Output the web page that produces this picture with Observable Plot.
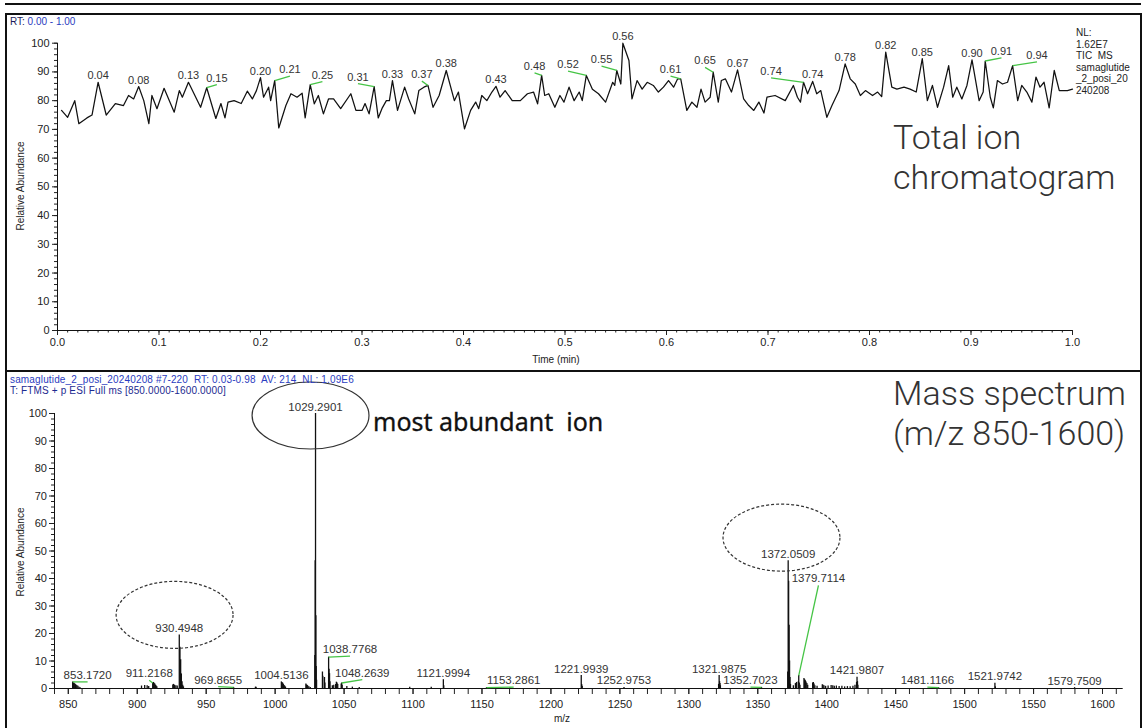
<!DOCTYPE html>
<html><head><meta charset="utf-8">
<script src="https://cdn.jsdelivr.net/npm/d3@7"></script>
<script src="https://cdn.jsdelivr.net/npm/@observablehq/plot@0.6"></script>
<style>
body{margin:0;background:#fff;}
#wrap{position:relative;width:1145px;height:728px;overflow:hidden;background:#fff;font-family:"Liberation Sans",Arial,sans-serif;color:#222;}
.abs{position:absolute;white-space:pre;}
.ln{position:absolute;background:#111;}
.ctr{transform:translate(-50%,-50%);}
.rot{transform:translate(-50%,-50%) rotate(-90deg);}
.big{font-family:Roboto,"Noto Sans",sans-serif;font-weight:300;font-size:34px;line-height:40px;color:#333;}
.hdr{font-size:10px;line-height:11px;color:#2a3cc0;}
</style></head>
<body><div id="wrap">
<div id="topPlot" style="position:absolute;left:0;top:0"></div>
<div id="msPlot" style="position:absolute;left:0;top:371px"></div>
<div class="ln" style="left:5px;top:3px;width:1136px;height:1.5px"></div>
<div class="ln" style="left:5px;top:13px;width:1136px;height:1.5px"></div>
<div class="ln" style="left:5px;top:13px;width:1.5px;height:715px"></div>
<div class="ln" style="left:1140px;top:13px;width:1.5px;height:715px"></div>
<div class="ln" style="left:5px;top:370px;width:1136px;height:2px"></div>
<div class="abs hdr" style="left:10px;top:16px"><span style="color:#1c1c5a">RT:</span> 0.00 - 1.00</div>
<div class="abs" style="left:1076px;top:27px;font-size:10px;line-height:11.5px;color:#222">NL:
1.62E7
TIC  MS
samaglutide
_2_posi_20
240208</div>
<div class="abs big" style="left:893px;top:117px">Total ion
chromatogram</div>
<div class="abs big" style="left:893px;top:373px">Mass spectrum
(m/z 850-1600)</div>
<div class="abs" style="left:373px;top:404px;font-family:'Noto Sans',sans-serif;font-size:25px;line-height:34px;color:#111;-webkit-text-stroke:0.3px #111">most abundant  ion</div>
<div class="abs hdr" style="left:10px;top:374px;letter-spacing:0.15px">samaglutide_2_posi_20240208 #7-220  RT: 0.03-0.98  AV: 214  NL: 1.09E6
<span style="color:#1c2a90">T: FTMS + p ESI Full ms [850.0000-1600.0000]</span></div>
<div class="abs rot" style="left:20px;top:186px;font-size:10px">Relative Abundance</div>
<div class="abs rot" style="left:20px;top:552px;font-size:10px">Relative Abundance</div>
<div class="abs ctr" style="left:556px;top:359px;font-size:10px">Time (min)</div>
<div class="abs ctr" style="left:562px;top:718px;font-size:10px">m/z</div>
</div>
<script>
// ---------- Total ion chromatogram ----------
const ticTime = [
0.004,0.010,0.017,0.021,0.029,0.034,0.040,0.048,0.057,0.065,
0.070,0.075,0.080,0.085,0.090,0.093,0.098,0.105,0.115,0.120,
0.123,0.129,0.141,0.147,0.156,0.161,0.165,0.168,0.174,0.181,
0.187,0.192,0.196,0.200,0.203,0.208,0.210,0.214,0.218,0.225,
0.230,0.236,0.241,0.244,0.249,0.253,0.257,0.262,0.267,0.272,
0.279,0.289,0.294,0.300,0.303,0.307,0.312,0.316,0.320,0.324,
0.327,0.330,0.335,0.342,0.346,0.352,0.356,0.361,0.365,0.370,
0.376,0.383,0.391,0.395,0.401,0.407,0.412,0.415,0.418,0.423,
0.428,0.432,0.436,0.441,0.448,0.456,0.463,0.469,0.473,0.477,
0.480,0.484,0.490,0.495,0.499,0.504,0.509,0.514,0.517,0.521,
0.527,0.533,0.540,0.547,0.549,0.551,0.555,0.557,0.563,0.566,
0.571,0.576,0.581,0.587,0.592,0.597,0.602,0.607,0.611,0.614,
0.620,0.625,0.630,0.634,0.638,0.643,0.646,0.651,0.654,0.658,
0.664,0.670,0.676,0.681,0.686,0.691,0.696,0.699,0.707,0.717,
0.725,0.729,0.732,0.735,0.739,0.744,0.748,0.752,0.758,0.763,
0.770,0.776,0.781,0.786,0.791,0.796,0.803,0.808,0.812,0.816,
0.822,0.827,0.834,0.840,0.846,0.852,0.857,0.862,0.867,0.873,
0.878,0.882,0.886,0.891,0.896,0.901,0.908,0.912,0.914,0.919,
0.922,0.926,0.931,0.936,0.941,0.946,0.950,0.955,0.960,0.964,
0.968,0.972,0.977,0.982,0.987,0.995,1.000];
const ticValue = [
76.6,74.2,80,72,74,75,86.4,75,79,78.3,
81.8,80.6,84.9,80,72,81.8,77.2,84.3,76,83.5,
81.2,86.4,77.7,84.5,73.8,79,74,79.5,80,79,
83.3,80.6,83.5,88,81.2,84.7,80,87,70.5,78.3,
82.4,81.2,82.6,74,85.6,78.9,81.8,75.4,80.6,80.6,
77.2,82.4,76.6,76.6,79,75.4,84.9,74,77.5,80,
80,87,76.6,84.7,80.6,75.4,83.5,84.7,85.3,77.7,
81.8,90.5,80,83,70.2,76.6,79.5,77.2,81.8,80,
83,85,81.2,83.5,80,80,82.4,83,78.9,88.8,
81.8,82.4,77.7,81.8,79.5,84.7,80,83,80,88.8,
84,82.4,79.5,86.4,85.3,90.5,85.8,100,94,80.6,
87,84,86.4,85.3,83,84.7,87,84.7,87.6,87.6,
76.6,79.5,77.7,84,79.5,81.2,89.9,79.5,87,87.6,
83,90.7,80.6,78.3,76.6,79.5,75.7,81.2,81.8,80,
85.3,81.2,79.5,86.4,82.4,86.7,82.4,83.5,74.2,78.3,
83.5,92.8,87.6,85.8,81.8,83.5,81.8,83,81.4,96.9,
84.7,84,84.7,84,83,94.6,80,85.3,77.7,84.7,
92.2,81.2,84.7,80.6,85.3,94.2,80,83,93.8,81.2,
77.5,87,85.8,86.4,92.2,80,85.3,83,79.5,88.2,
84.7,86.4,77.5,90.5,83.5,83.5,84];

const ticLabelText = ["0.04","0.08","0.13","0.15","0.20","0.21","0.25","0.31","0.33","0.37","0.38","0.43","0.48","0.52","0.55","0.56","0.61","0.65","0.67","0.74","0.74","0.78","0.82","0.85","0.90","0.91","0.94"];
const ticLabelPeak = [0.040,0.080,0.129,0.147,0.200,0.214,0.249,0.312,0.330,0.365,0.383,0.432,0.477,0.521,0.551,0.557,0.614,0.646,0.670,0.735,0.744,0.776,0.816,0.852,0.901,0.914,0.941];
// displaced label anchors (null = label sits right above its peak)
const ticLabelTime  = [null,null,null,0.157,null,0.229,0.261,0.296,null,0.359,null,null,0.470,0.503,0.536,null,0.604,0.638,null,0.703,null,null,null,null,null,0.930,0.965];
const ticLabelLevel = [null,null,null,85.6,null,88.5,86.6,85.9,null,86.8,null,null,89.7,90.3,92.0,null,88.5,91.6,null,87.9,null,null,null,null,null,94.9,93.5];

const yTicks = d3.range(0, 101, 10);
const yMinor = d3.range(0, 101, 2);
const timeTicks = d3.range(0, 11).map(d => d / 10);
const timeMinor = d3.range(0, 101).map(d => d / 100);

// ---------- Mass spectrum ----------
const msMz = [853.17,853.67,854.2,854.7,855.2,855.7,856.3,857.0,857.8,858.6,
903.1,905.4,907.2,908.3,
911.22,911.72,912.22,912.72,913.22,913.7,914.2,
925.8,926.3,927.0,928.0,929.0,
930.49,930.99,931.49,931.99,932.49,932.99,933.5,
969.87,985.7,986.2,
1004.51,1005.0,1005.5,1006.0,1006.5,1007.0,1007.5,
1022.3,1022.8,1023.3,1023.8,1024.5,1025.5,
1028.79,1029.04,1029.29,1029.54,1029.79,1030.04,
1034.3,1034.55,1035.8,1036.1,
1038.78,1039.11,1039.45,1039.78,
1041.5,1042.5,
1043.9,1044.4,1044.9,1045.4,
1047.9,1048.26,1048.6,
1052.0,1056.0,1061.0,
1097.6,1113.2,1121.99,1122.3,
1153.29,1221.99,1222.3,1222.7,1252.98,
1321.6,1321.99,1322.3,1322.6,1322.9,
1352.70,
1371.72,1372.05,1372.38,1372.72,1373.05,1373.38,1373.72,
1375.8,1377.3,1378.1,1379.4,1379.71,1380.1,1380.6,
1383.5,1384.0,1384.5,1385.0,1385.6,1386.2,
1389.8,1390.3,1390.8,1391.4,1393.0,
1396.8,1397.3,1398.0,1399.2,1401.0,1403.2,1404.4,1405.5,1407.0,1409.0,1411.0,1413.0,1415.0,1417.0,1419.0,1420.5,
1421.65,1421.98,1422.3,1422.6,
1481.12,1521.97,1522.3,1579.75];
const msIntensity = [2.4,2.0,1.9,1.6,1.4,1.2,1.0,0.8,0.5,0.3,
0.9,1.1,1.0,0.7,
2.0,2.2,1.9,1.6,1.2,0.9,0.6,
1.3,1.5,1.2,1.0,0.9,
19.5,15.0,10.5,5.3,2.5,1.2,0.6,
0.4,0.5,0.5,
2.4,2.2,1.9,1.5,1.1,0.8,0.5,
1.6,1.3,1.1,0.8,0.6,0.4,
12,46.5,100,26.5,8,3,
6.0,4.5,4.0,2.0,
11.4,7.0,5.4,2.5,
1.0,1.2,
1.5,2.3,2.0,1.5,
1.6,2.0,1.2,
0.7,0.5,0.4,
0.5,0.5,3.2,1.0,
0.3,4.7,1.5,0.8,0.4,
1.5,4.7,2.5,1.8,1.0,
0.4,
6.0,46.5,39.0,23.0,10.0,4.0,1.5,
1.0,1.8,2.2,2.5,4.7,2.0,1.2,
3.6,3.2,2.8,2.4,1.8,1.2,
2.0,2.2,1.6,1.0,0.8,
1.4,1.2,1.0,0.8,0.9,1.1,1.0,0.8,0.9,0.7,0.8,0.6,0.7,0.6,0.8,1.2,
2.2,4.1,2.5,1.2,
0.3,1.9,0.6,0.3];

const msLabelText = ["853.1720","911.2168","930.4948","969.8655","1004.5136","1029.2901","1038.7768","1048.2639","1121.9994","1153.2861","1221.9939","1252.9753","1321.9875","1352.7023","1372.0509","1379.7114","1421.9807","1481.1166","1521.9742","1579.7509"];
const msLabelMz    = [864,908.7,null,958.7,null,null,1054.3,1063.2,null,1173,null,null,null,1344.7,null,1394,null,1473,null,null];
const msLabelLevel = [2.4,3.0,null,0.7,null,null,11.8,3.2,null,0.5,null,null,null,0.5,null,37.5,null,0.5,null,null];

const mzTicks = d3.range(850, 1601, 50);
const mzMinor = d3.range(840, 1611, 10);

// circled ions
const circledIons = ["930.4948","1029.2901","1372.0509"];
const circleDashed = [true,false,true];
const circleShift = [[-4.7,-20],[-5,2],[-6.7,-23]];

// ---------- build ----------
const tic = ticTime.map((t, i) => ({t, v: ticValue[i]}));
const nearest = (arr, key, x) => arr.reduce((a, b) => Math.abs(b[key] - x) < Math.abs(a[key] - x) ? b : a);
const ticLabels = ticLabelText.map((s, i) => {
  const p = nearest(tic, "t", ticLabelPeak[i]);
  const moved = ticLabelTime[i] != null;
  return {s, pt: p.t, pv: p.v, lt: moved ? ticLabelTime[i] : p.t, lv: moved ? ticLabelLevel[i] : p.v, moved};
});
const ms = msMz.map((mz, i) => ({mz, i: msIntensity[i]}));
const msLabels = msLabelText.map((s, k) => {
  const p = nearest(ms, "mz", +s);
  const moved = msLabelMz[k] != null;
  return {s, pm: p.mz, pi: p.i, lm: moved ? msLabelMz[k] : p.mz, li: moved ? msLabelLevel[k] : p.i, moved};
});

const ellipse = {draw(ctx, size) {
  const r = Math.sqrt(size / Math.PI), rx = r * 1.745, ry = r, k = 0.5523;
  ctx.moveTo(rx, 0);
  ctx.bezierCurveTo(rx, ry * k, rx * k, ry, 0, ry);
  ctx.bezierCurveTo(-rx * k, ry, -rx, ry * k, -rx, 0);
  ctx.bezierCurveTo(-rx, -ry * k, -rx * k, -ry, 0, -ry);
  ctx.bezierCurveTo(rx * k, -ry, rx, -ry * k, rx, 0);
  ctx.closePath();
}};

const green = "#45c445";
const font = {fontFamily: "'Liberation Sans', Arial, sans-serif", fontSize: "11px", color: "#222", background: "transparent", overflow: "visible"};

const topChart = Plot.plot({
  width: 1145, height: 371,
  marginLeft: 57, marginRight: 73, marginTop: 42.7, marginBottom: 41,
  x: {domain: [0, 1]}, y: {domain: [0, 100]},
  style: font,
  marks: [
    Plot.axisY(yMinor, {tickSize: 3, tickFormat: () => "", label: null}),
    Plot.axisY(yTicks, {tickSize: 5, tickPadding: 3, label: null, fontSize: 11}),
    Plot.axisX(timeMinor, {tickSize: 2.5, tickFormat: () => "", label: null}),
    Plot.axisX(timeTicks, {tickSize: 5, tickPadding: 3, tickFormat: d => d.toFixed(1), label: null, fontSize: 11}),
    Plot.ruleX([0], {stroke: "#111"}),
    Plot.ruleY([0], {stroke: "#111"}),
    Plot.lineY(tic, {x: "t", y: "v", stroke: "#111", strokeWidth: 1.25}),
    Plot.link(ticLabels.filter(d => d.moved), {x1: "pt", y1: "pv", x2: "lt", y2: "lv", stroke: green, strokeWidth: 1.3}),
    Plot.text(ticLabels, {x: "lt", y: "lv", text: "s", lineAnchor: "bottom", dy: -3, fontSize: 11, fill: "#333"})
  ]
});
document.getElementById("topPlot").append(topChart);

const msChart = Plot.plot({
  width: 1145, height: 357,
  marginLeft: 54, marginRight: 22.3, marginTop: 42, marginBottom: 40,
  x: {domain: [840, 1615]}, y: {domain: [0, 100]},
  style: font,
  marks: [
    Plot.axisY(yMinor, {tickSize: 3, tickFormat: () => "", label: null}),
    Plot.axisY(yTicks, {tickSize: 5, tickPadding: 2.5, label: null, fontSize: 11}),
    Plot.axisX(mzMinor, {tickSize: 6, tickFormat: () => "", label: null}),
    Plot.axisX(mzTicks, {tickSize: 6, tickPadding: 6, tickFormat: d => String(d), label: null, fontSize: 11}),
    Plot.ruleX([840], {stroke: "#111"}),
    Plot.ruleY([0], {stroke: "#111"}),
    Plot.ruleX(ms, {x: "mz", y1: 0, y2: "i", stroke: "#111", strokeWidth: 1.3}),
    Plot.link(msLabels.filter(d => d.moved), {x1: "pm", y1: "pi", x2: "lm", y2: "li", stroke: green, strokeWidth: 1.3}),
    Plot.text(msLabels, {x: "lm", y: "li", text: "s", lineAnchor: "bottom", dy: -3, fontSize: 11.5, fill: "#333"}),
    ...circledIons.map((s, k) => {
      const p = nearest(ms, "mz", +s);
      return Plot.dot([p], {x: "mz", y: "i", r: 33.5, symbol: ellipse, fill: "none", stroke: "#333", strokeWidth: 1.2,
        strokeDasharray: circleDashed[k] ? "3,2" : null, dx: circleShift[k][0], dy: circleShift[k][1]});
    })
  ]
});
document.getElementById("msPlot").append(msChart);
</script>
</body></html>
